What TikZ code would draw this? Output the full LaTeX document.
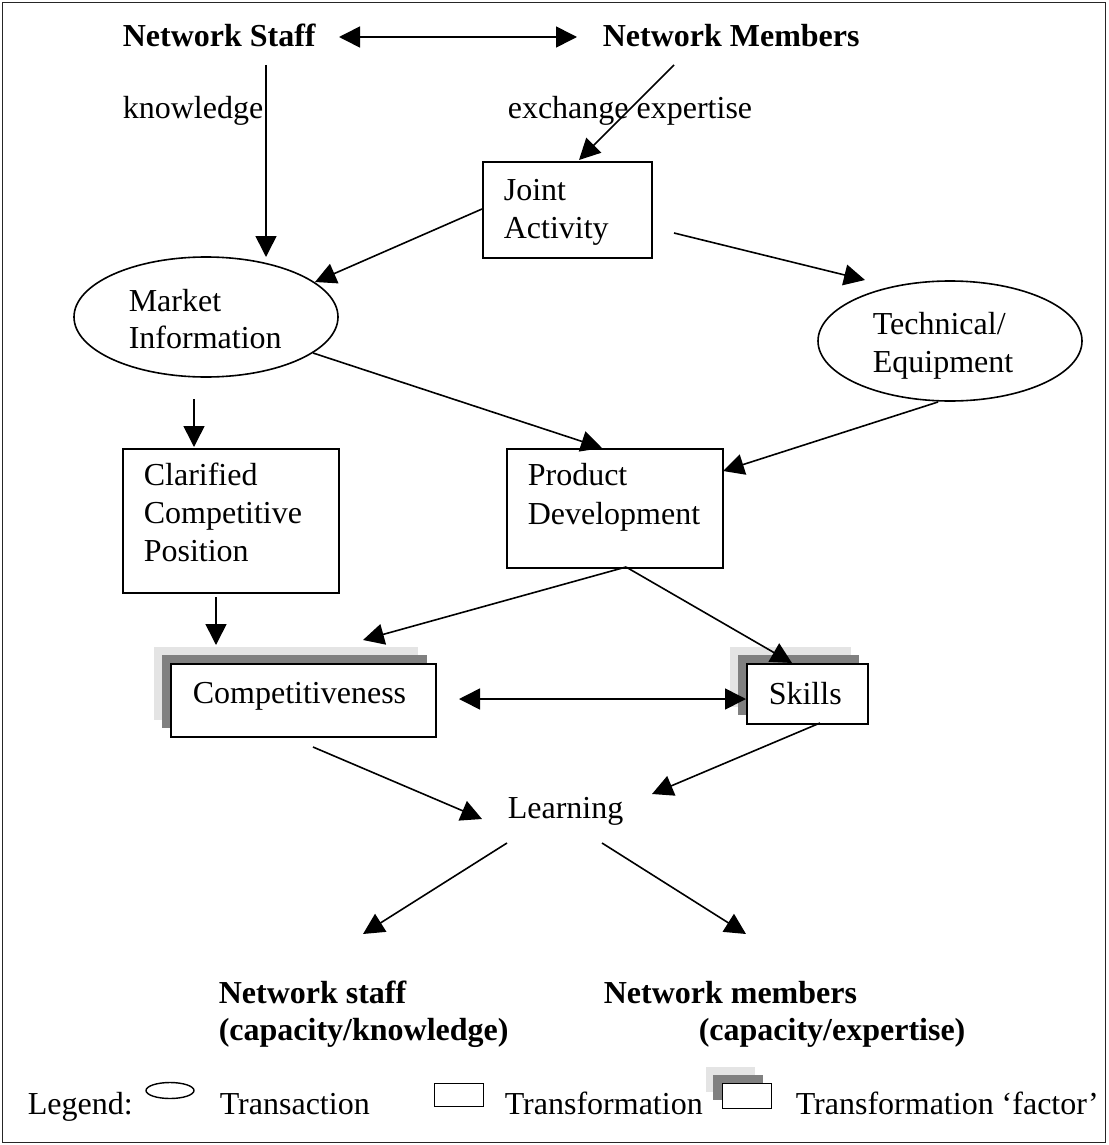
\documentclass[tikz,border=0pt]{standalone}
\usepackage{fontspec}
\setmainfont{Liberation Serif}
\usetikzlibrary{arrows.meta,shapes.geometric}
\definecolor{lightsh}{HTML}{E4E4E4}
\definecolor{darksh}{HTML}{808080}
\begin{document}
\begin{tikzpicture}[x=1pt,y=-1pt,
  font=\fontsize{32}{38}\selectfont,
  line width=1.6pt,
  txt/.style={anchor=base west, inner sep=0pt},
  btxt/.style={anchor=base west, inner sep=0pt, font=\fontsize{32}{38}\selectfont\bfseries},
  conn/.style={-{Triangle[length=21pt,width=21pt]}},
  dconn/.style={{Triangle[length=21pt,width=21pt]}-{Triangle[length=21pt,width=21pt]}},
  boxnode/.style={draw, rectangle, fill=white, inner sep=0pt, anchor=north west},
  ellnode/.style={draw, ellipse, inner sep=0pt},
  lightbox/.style={fill=lightsh, draw=none},
  darkbox/.style={fill=darksh, draw=none}]
\useasboundingbox (0,0) rectangle (1108,1145);
\draw[line width=1.4pt, black!85] (2.5,2.5) rectangle (1105.5,1142.5);

% top labels
\node[btxt] (ns) at (122,47) {Network Staff};
\node[btxt] (nm) at (602,47) {Network Members};
\node[txt] (kn) at (122,119) {knowledge};
\node[txt] (ex) at (507,119) {exchange expertise};

% Joint Activity
\node[boxnode, minimum width=169pt, minimum height=96pt] (ja) at (482,161) {};
\node[txt] (ja1) at (503,200) {Joint};
\node[txt] (ja2) at (503,238) {Activity};

% Market Information
\node[ellnode, minimum width=264pt, minimum height=120pt] (mi) at (206,317) {};
\node[txt] (mi1) at (128,311) {Market};
\node[txt] (mi2) at (128,348) {Information};

% Technical / Equipment
\node[ellnode, minimum width=264pt, minimum height=120pt] (te) at (950,341) {};
\node[txt] (te1) at (872,334) {Technical/};
\node[txt] (te2) at (872,372) {Equipment};

% Clarified Competitive Position
\node[boxnode, minimum width=216pt, minimum height=144pt] (cc) at (122,448) {};
\node[txt] (cc1) at (143,485) {Clarified};
\node[txt] (cc2) at (143,523) {Competitive};
\node[txt] (cc3) at (143,561) {Position};

% Product Development
\node[boxnode, minimum width=216pt, minimum height=119pt] (pd) at (506,448) {};
\node[txt] (pd1) at (527,485) {Product};
\node[txt] (pd2) at (527,524) {Development};

% Competitiveness stack
\fill[lightbox] (154,647) rectangle (418,720);
\fill[darkbox] (162,655) rectangle (427,728);
\node[boxnode, minimum width=265pt, minimum height=73pt] (co) at (170,663) {};
\node[txt] (co1) at (192,703) {Competitiveness};

% Skills stack
\fill[lightbox] (730,647) rectangle (851,707);
\fill[darkbox] (738,655) rectangle (859,715);
\node[boxnode, minimum width=121pt, minimum height=60pt] (sk) at (746,663) {};
\node[txt] (sk1) at (768,704) {Skills};

% Learning
\node[txt] (le) at (507,818) {Learning};

% bottom labels
\node[btxt] (bs1) at (218,1003) {Network staff};
\node[btxt] (bs2) at (218,1040) {(capacity/knowledge)};
\node[btxt] (bm1) at (603,1003) {Network members};
\node[btxt] (bm2) at (698,1040) {(capacity/expertise)};

% legend
\node[txt] (lg) at (27,1114) {Legend:};
\node[ellnode, line width=1.4pt, minimum width=48pt, minimum height=16pt] (lge) at (170,1090.5) {};
\node[txt] (lg1) at (219,1114) {Transaction};
\node[boxnode, line width=1.4pt, minimum width=49pt, minimum height=23pt] (lgr) at (434,1083) {};
\node[txt] (lg2) at (504,1114) {Transformation};
\fill[lightbox] (706,1067) rectangle (755,1092);
\fill[darkbox] (713,1075) rectangle (763,1100);
\node[boxnode, line width=1.4pt, minimum width=49pt, minimum height=25pt] (lgf) at (722,1083) {};
\node[txt] (lg3) at (795,1114) {Transformation ‘factor’};

% connector end points
\coordinate (c1a) at (339,37);   \coordinate (c1b) at (577,37);
\coordinate (c2a) at (266,65);   \coordinate (c2b) at (266,257);
\coordinate (c3a) at (674,65);   \coordinate (c3b) at (579,160);
\coordinate (c4a) at (482,209);  \coordinate (c4b) at (315,282);
\coordinate (c5a) at (674,233);  \coordinate (c5b) at (865,280);
\coordinate (c6a) at (313,353);  \coordinate (c6b) at (602,448);
\coordinate (c7a) at (938,402);  \coordinate (c7b) at (723,471);
\coordinate (c8a) at (194,399);  \coordinate (c8b) at (194,447);
\coordinate (c9a) at (216,597);  \coordinate (c9b) at (216,645);
\coordinate (c10a) at (626,567); \coordinate (c10b) at (363,640);
\coordinate (c11b) at (792,663);
\coordinate (c12a) at (459,699); \coordinate (c12b) at (746,699);
\coordinate (c13a) at (313,747); \coordinate (c13b) at (482,819);
\coordinate (c14a) at (820,723); \coordinate (c14b) at (652,794);
\coordinate (c15a) at (507,843); \coordinate (c15b) at (363,934);
\coordinate (c16a) at (602,843); \coordinate (c16b) at (746,934);

\draw[dconn] (c1a) -- (c1b);
\draw[conn] (c2a) -- (c2b);
\draw[conn] (c3a) -- (c3b);
\draw[conn] (c4a) -- (c4b);
\draw[conn] (c5a) -- (c5b);
\draw[conn] (c6a) -- (c6b);
\draw[conn] (c7a) -- (c7b);
\draw[conn] (c8a) -- (c8b);
\draw[conn] (c9a) -- (c9b);
\draw[conn] (c10a) -- (c10b);
\draw[conn] (c10a) -- (c11b);
\draw[dconn] (c12a) -- (c12b);
\draw[conn] (c13a) -- (c13b);
\draw[conn] (c14a) -- (c14b);
\draw[conn] (c15a) -- (c15b);
\draw[conn] (c16a) -- (c16b);
\end{tikzpicture}
\end{document}
